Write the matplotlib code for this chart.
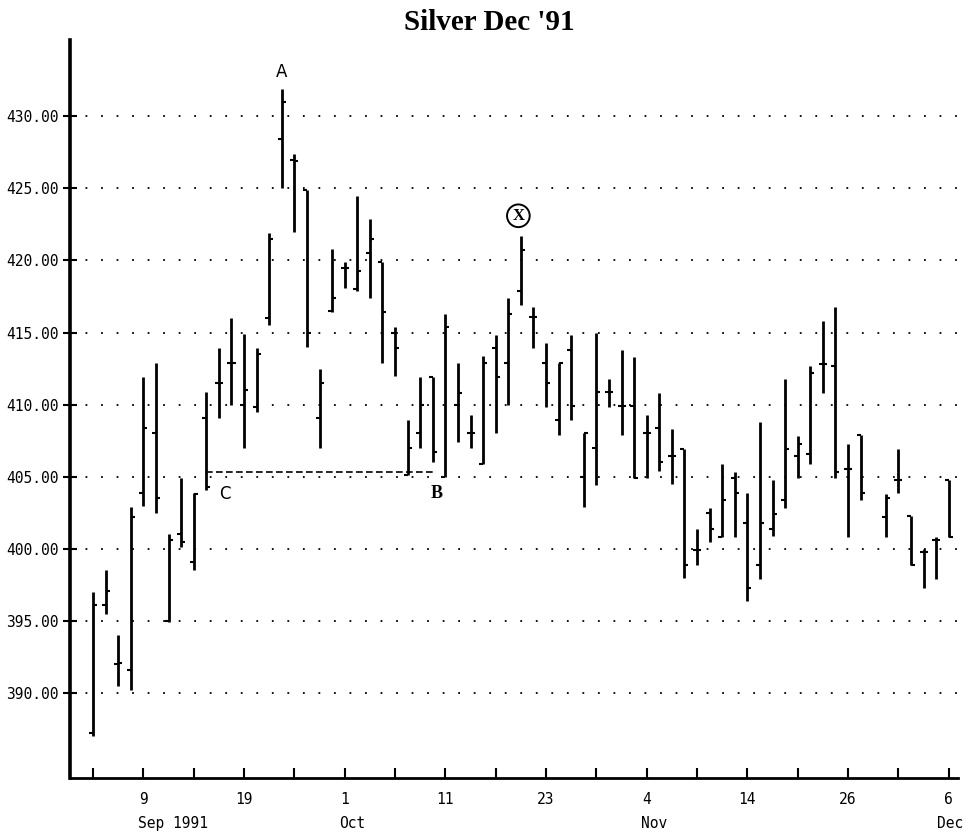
import numpy as np
import matplotlib
matplotlib.use("Agg")
import matplotlib.pyplot as plt
import matplotlib.transforms as mtransforms

# daily bars, Silver Dec '91 futures
dates = ["1991-09-03", "1991-09-04", "1991-09-05", "1991-09-06", "1991-09-09",
         "1991-09-10", "1991-09-11", "1991-09-12", "1991-09-13", "1991-09-16",
         "1991-09-17", "1991-09-18", "1991-09-19", "1991-09-20", "1991-09-23",
         "1991-09-24", "1991-09-25", "1991-09-26", "1991-09-27", "1991-09-30",
         "1991-10-01", "1991-10-02", "1991-10-03", "1991-10-04", "1991-10-07",
         "1991-10-08", "1991-10-09", "1991-10-10", "1991-10-11", "1991-10-14",
         "1991-10-15", "1991-10-16", "1991-10-17", "1991-10-18", "1991-10-21",
         "1991-10-22", "1991-10-23", "1991-10-24", "1991-10-25", "1991-10-28",
         "1991-10-29", "1991-10-30", "1991-10-31", "1991-11-01", "1991-11-04",
         "1991-11-05", "1991-11-06", "1991-11-07", "1991-11-08", "1991-11-11",
         "1991-11-12", "1991-11-13", "1991-11-14", "1991-11-15", "1991-11-18",
         "1991-11-19", "1991-11-20", "1991-11-21", "1991-11-22", "1991-11-25",
         "1991-11-26", "1991-11-27", "1991-11-29", "1991-12-02", "1991-12-03",
         "1991-12-04", "1991-12-05", "1991-12-06"]

opens = [387.2, 396.1, 392.0, 391.6, 403.9, 408.0, 395.0, 401.0, 399.1, 409.1,
         411.5, 412.9, 410.0, 409.8, 416.0, 428.4, 427.0, 424.9, 409.1, 416.5,
         419.5, 418.0, 420.5, 419.9, 415.0, 405.1, 408.0, 411.9, 405.0, 410.0,
         408.0, 405.9, 413.9, 412.9, 417.9, 416.1, 412.9, 408.9, 413.8, 405.0,
         407.0, 410.9, 409.9, 409.9, 408.0, 408.4, 406.4, 406.9, 399.9, 402.5,
         400.8, 404.9, 401.8, 398.9, 401.4, 403.4, 406.4, 406.6, 412.8, 412.7,
         405.5, 407.9, 402.2, 404.8, 402.3, 399.8, 400.6, 404.8]
highs = [397.0, 398.5, 394.0, 402.9, 411.9, 412.9, 401.0, 404.9, 403.9, 410.9,
         413.9, 416.0, 414.9, 413.9, 421.9, 431.9, 427.4, 424.9, 412.5, 420.8,
         419.9, 424.5, 422.9, 419.9, 415.4, 408.9, 411.9, 411.9, 416.3, 412.9,
         409.3, 413.4, 414.8, 417.4, 421.7, 416.8, 414.3, 412.9, 414.8, 408.0,
         415.0, 411.8, 413.8, 413.3, 409.3, 410.8, 408.3, 406.9, 401.4, 402.8,
         405.9, 405.3, 403.9, 408.8, 404.8, 411.8, 407.8, 412.7, 415.8, 416.8,
         407.3, 407.9, 403.8, 406.9, 402.3, 400.0, 400.8, 404.8]
lows = [387.0, 395.5, 390.5, 390.2, 403.0, 402.5, 394.9, 400.1, 398.5, 404.1,
        409.1, 410.0, 407.0, 409.5, 415.5, 425.0, 422.0, 414.0, 407.0, 416.4,
        418.1, 417.9, 417.4, 412.9, 412.0, 405.1, 407.0, 406.0, 405.0, 407.4,
        407.0, 405.9, 408.0, 410.0, 416.9, 413.9, 409.8, 407.9, 408.9, 402.9,
        404.4, 409.8, 407.9, 404.9, 404.9, 405.4, 404.5, 398.0, 398.9, 400.5,
        400.8, 400.8, 396.4, 397.9, 400.9, 402.8, 404.9, 405.9, 410.8, 404.9,
        400.8, 403.4, 400.8, 403.9, 398.9, 397.3, 397.9, 400.8]
closes = [396.1, 397.1, 392.1, 402.2, 408.4, 403.5, 400.6, 400.5, 403.8, 404.3,
          411.5, 412.9, 411.0, 413.5, 421.5, 431.0, 426.9, 415.0, 411.5, 417.4,
          419.5, 419.3, 421.5, 416.4, 413.9, 407.0, 410.0, 406.7, 415.4, 410.8,
          408.0, 412.9, 411.9, 416.3, 420.7, 416.1, 411.5, 412.9, 409.9, 408.0,
          410.9, 410.9, 409.9, 404.9, 408.0, 406.0, 406.4, 398.9, 399.9, 401.4,
          403.4, 403.9, 397.3, 401.8, 402.4, 406.9, 407.3, 412.2, 412.8, 405.3,
          405.5, 403.9, 403.5, 404.8, 398.9, 399.8, 400.6, 400.8]

# support line C - B
cb_level = 405.3
cb_start, cb_end = "1991-09-16", "1991-10-10"

y_ticks = [390, 395, 400, 405, 410, 415, 420, 425, 430]
day_labels = ["9", "19", "1", "11", "23", "4", "14", "26", "6"]
month_labels = ["Sep 1991", "", "Oct", "", "", "Nov", "", "", "Dec"]

start = "1991-09-03"
# trading day slots (Thanksgiving keeps its empty slot)
x = np.busday_count(start, dates)

plt.rcParams['font.family'] = ['DejaVu Sans']
fig = plt.figure(figsize=(9.66, 8.32), dpi=100)
ax = fig.add_axes([0.0725, 0.065, 0.9195, 0.887])

ax.vlines(x, lows, highs, color="black", lw=2.0)
tick_w = 0.32
ax.hlines(opens, x - tick_w, x, color="black", lw=1.5)
ax.hlines(closes, x, x + tick_w, color="black", lw=1.5)

x0, x1 = np.busday_count(start, [cb_start, cb_end])
ax.plot([x0, x1], [cb_level, cb_level], color="black", lw=1.2,
        linestyle=(0, (4, 2)))

ax.text(15, 433.1, "A", ha="center", va="center", fontsize=12)
ax.text(10.5, 403.8, "C", ha="center", va="center", fontsize=12)
ax.text(27.3, 403.8, "B", ha="center", va="center", fontsize=13,
        family="Liberation Serif", fontweight="bold")
ax.text(33.8, 423.1, "X", ha="center", va="center", fontsize=12,
        family="Liberation Serif", fontweight="bold",
        bbox=dict(boxstyle="circle,pad=0.2", fc="white", ec="black", lw=1.4))

ax.set_xlim(-1.83, 68.76)
ax.set_ylim(384.1, 435.3)

ax.set_yticks(y_ticks)
ax.set_yticklabels([f"{v:.2f}" for v in y_ticks], family="DejaVu Sans Mono",
                   fontsize=10.5)
ax.yaxis.grid(True, color="black", lw=1.3, linestyle=(0, (1, 7.6)))
ax.set_axisbelow(True)

xt = np.arange(0, 69, 4)
ax.set_xticks(xt)
xl = [""] * len(xt)
for k, lab in enumerate(day_labels):
    xl[2 * k + 1] = lab
ax.set_xticklabels(xl, family="DejaVu Sans Mono", fontsize=10.5)

trans = mtransforms.blended_transform_factory(ax.transData, ax.transAxes)
for k, mon in enumerate(month_labels):
    if not mon:
        continue
    off = -0.9 if k == len(month_labels) - 1 else -0.45
    ax.text(xt[2 * k + 1] + off, -0.051, mon, transform=trans,
            ha="left", va="top", family="DejaVu Sans Mono", fontsize=10.5,
            clip_on=False)

ax.tick_params(axis="y", direction="inout", length=10, width=1.5, pad=3)
ax.tick_params(axis="x", direction="in", length=7, width=1.5, pad=10)
for side in ["top", "right"]:
    ax.spines[side].set_visible(False)
ax.spines["left"].set_linewidth(2.6)
ax.spines["bottom"].set_linewidth(2.0)

fig.text(0.507, 0.973, "Silver Dec '91", ha="center", va="center",
         family="Liberation Serif", fontweight="bold", fontsize=21)

fig.savefig("out.png", dpi=100)
